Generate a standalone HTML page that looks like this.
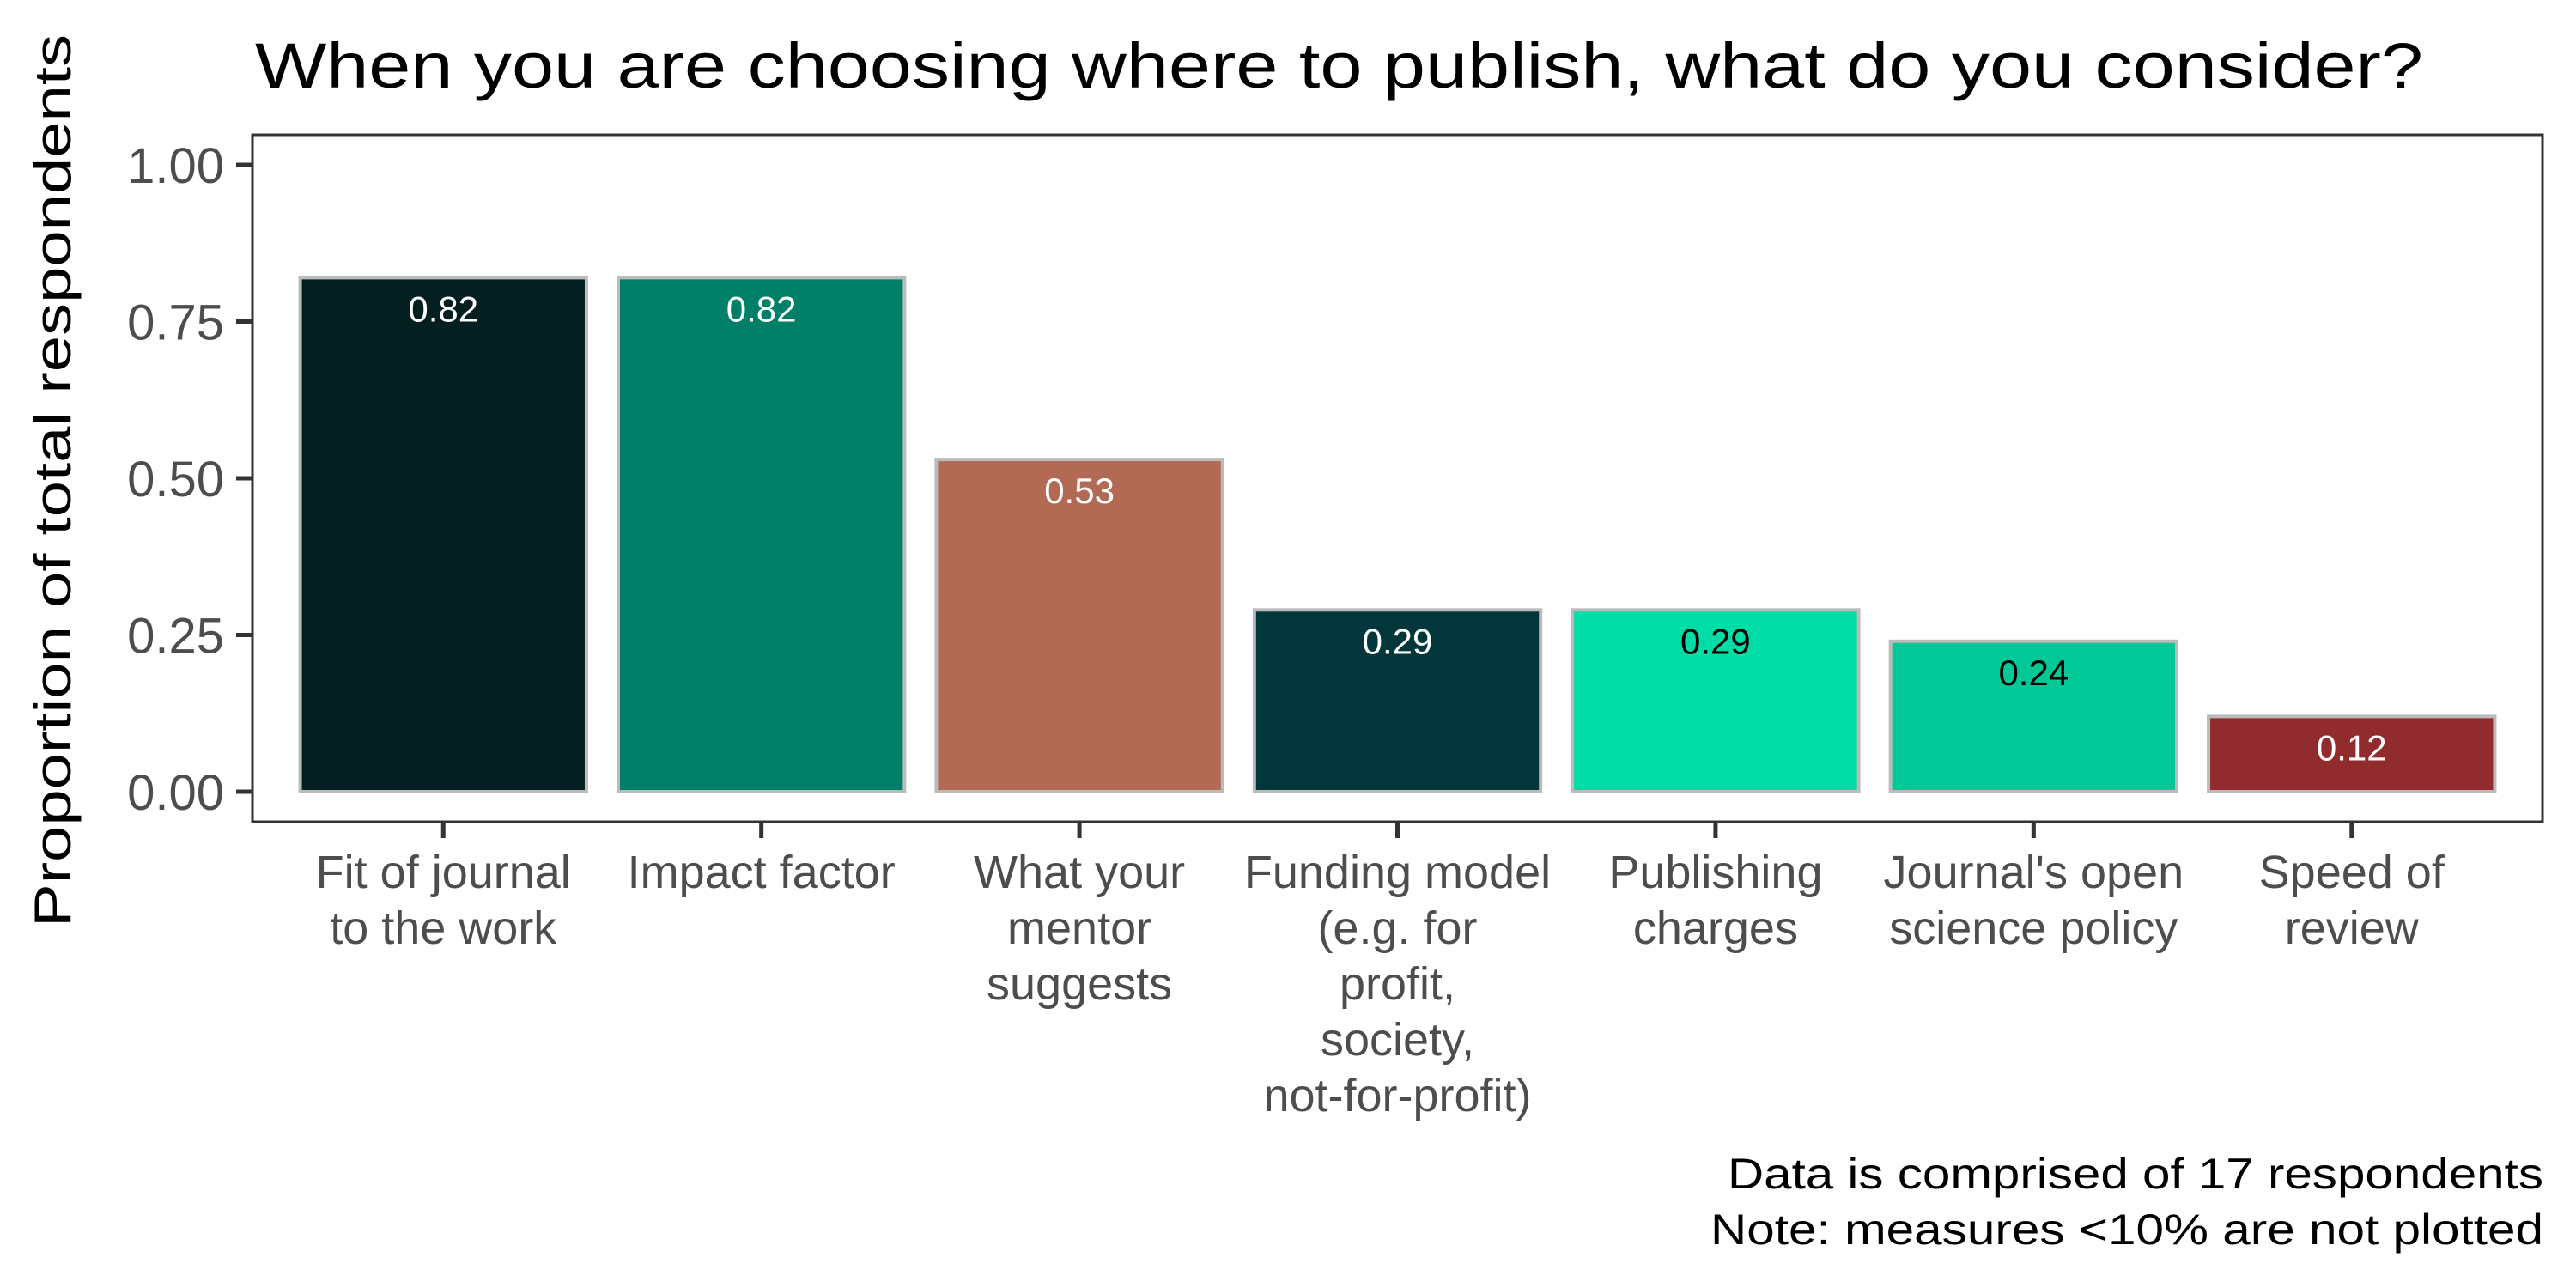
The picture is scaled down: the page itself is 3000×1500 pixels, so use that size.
<!DOCTYPE html>
<html><head><meta charset="utf-8"><style>
html,body{margin:0;padding:0;background:#fff;}
svg{display:block;font-family:"Liberation Sans",sans-serif;}
</style></head><body>
<svg id="chart" width="3000" height="1500" viewBox="0 0 3000 1500">
<rect width="3000" height="1500" fill="#fff"/>
<text x="297" y="102" font-size="74" fill="#000" textLength="2525" lengthAdjust="spacingAndGlyphs">When you are choosing where to publish, what do you consider?</text>
<text transform="translate(82,560) rotate(-90)" text-anchor="middle" font-size="60" fill="#000" textLength="1040" lengthAdjust="spacingAndGlyphs">Proportion of total respondents</text>
<g id="plot"></g>
<rect x="294" y="157" width="2667" height="800" fill="none" stroke="#333" stroke-width="3"/>
<text x="2962" y="1384" text-anchor="end" font-size="50" fill="#000" textLength="950" lengthAdjust="spacingAndGlyphs">Data is comprised of 17 respondents</text>
<text x="2962" y="1449" text-anchor="end" font-size="50" fill="#000" textLength="970" lengthAdjust="spacingAndGlyphs">Note: measures &lt;10% are not plotted</text>
</svg>
<script>
const categories = [["Fit of journal","to the work"],["Impact factor"],["What your","mentor","suggests"],["Funding model","(e.g. for","profit,","society,","not-for-profit)"],["Publishing","charges"],["Journal's open","science policy"],["Speed of","review"]];
const values = [0.82,0.82,0.53,0.29,0.29,0.24,0.12];
const labels = ["0.82","0.82","0.53","0.29","0.29","0.24","0.12"];
const yTicks = [0,0.25,0.5,0.75,1];
const yTickLabels = ["0.00","0.25","0.50","0.75","1.00"];
const colors = ["#031F1F","#007F68","#B26A55","#02363A","#00DCA6","#00C896","#922B2E"];
const labelColors = ["#fff","#fff","#fff","#fff","#000","#000","#fff"];

const NS="http://www.w3.org/2000/svg";
const g=document.getElementById('plot');
const left=294,right=2961;
const unit=(right-left)/7.2;
function x(i){return left+(0.6+i)*unit;}
function y(v){return 922-v*730;}
function mk(t,a){const e=document.createElementNS(NS,t);for(const k in a)e.setAttribute(k,a[k]);g.appendChild(e);return e;}
yTicks.forEach((v,i)=>{
  const t=mk('line',{x1:275,x2:294,y1:y(v),y2:y(v),stroke:'#333','stroke-width':5});
  
  
  const l=mk('text',{x:261,y:y(v)+21,'text-anchor':'end','font-size':58,fill:'#4d4d4d'});
  l.textContent=yTickLabels[i];
  
  
});
values.forEach((v,i)=>{
  const w=unit*0.9;
  const r=mk('rect',{x:x(i)-w/2,y:y(v),width:w,height:y(0)-y(v),fill:colors[i],stroke:'#bbbbbb','stroke-width':4});
  
  
  const t=mk('text',{x:x(i),y:y(v)+51,'text-anchor':'middle','font-size':42,fill:labelColors[i]});
  t.textContent=labels[i];
  
  
  const tk=mk('line',{x1:x(i),x2:x(i),y1:957,y2:976,stroke:'#333','stroke-width':5});
  
  
  categories[i].forEach((line,j)=>{
    const c=mk('text',{x:x(i),y:1034+65*j,'text-anchor':'middle','font-size':54,fill:'#4d4d4d'});
    c.textContent=line;
    
    
  });
});
</script>
</body></html>
